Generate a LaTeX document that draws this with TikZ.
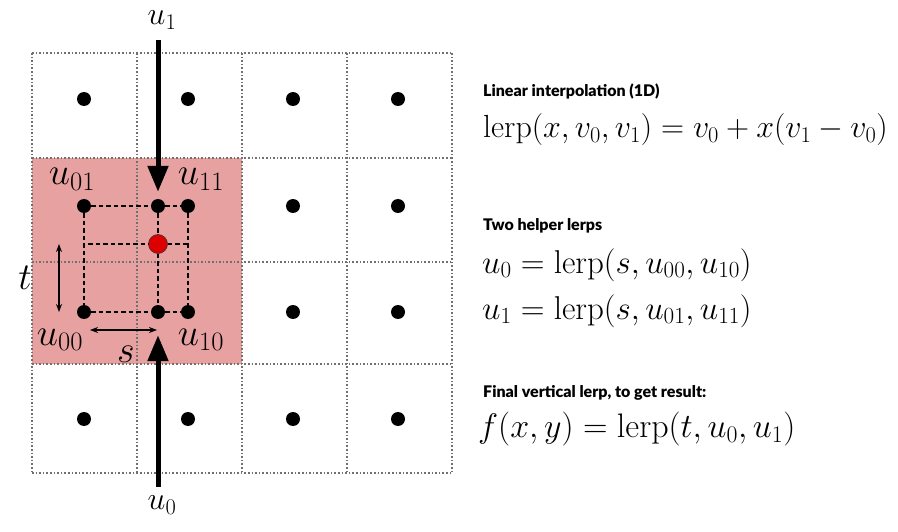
\RequirePackage{fix-cm}
\documentclass[tikz,border=0pt]{standalone}
\usepackage{amsmath}
\usepackage{fontspec}
\usepackage{tikz}
\usetikzlibrary{arrows.meta}
\newfontfamily\headfont{Lato Black}
\definecolor{cellpink}{HTML}{E6A1A0}
\definecolor{dotred}{HTML}{DD0000}
\definecolor{gridgray}{HTML}{707070}

\begin{document}
\begin{tikzpicture}[
  x=1pt, y=-1pt,
  gridline/.style={gridgray, line width=1.6pt, dash pattern=on 1.6pt off 2pt},
  dot/.style={circle, fill=black, inner sep=0pt, minimum size=14pt},
  reddot/.style={circle, fill=dotred, draw=black!80, line width=0.6pt, inner sep=0pt, minimum size=19pt},
  dashline/.style={line width=1.8pt, dash pattern=on 4.5pt off 3pt},
  bigarrow/.style={line width=5pt, -{Triangle[length=26pt,width=20pt]}},
  smallarrow/.style={line width=1.4pt, {Stealth[length=8pt,width=6pt]}-{Stealth[length=8pt,width=6pt]}},
  heading/.style={font=\headfont\fontsize{16}{20}\selectfont, anchor=base west, inner sep=0pt},
  formula/.style={font=\fontsize{32}{38}\selectfont, anchor=base west, inner sep=0pt},
  biglabel/.style={font=\fontsize{38}{44}\selectfont, anchor=base, inner sep=0pt},
  endlabel/.style={font=\fontsize{32}{36}\selectfont, inner sep=0pt},
]
\useasboundingbox (0,0) rectangle (898,532);

% ---------- shaded 2x2 block and grid ----------
\fill[cellpink] (32,158) rectangle (242,364);
\foreach \x in {32,137,242,347,452} \draw[gridline] (\x,53) -- (\x,473);
\foreach \y in {53,158,262,364,473} \draw[gridline] (32,\y) -- (452,\y);

% sample points, g<col><row>
\foreach \x/\cx in {84/0,188/1,293/2,398/3} {
  \foreach \y/\cy in {99/0,206/1,312/2,419/3} {
    \node[dot] (g\cx\cy) at (\x,\y) {};
  }
}

% interpolated points
\node[dot] (pu1) at (158,206) {};
\node[dot] (pu0) at (158,312) {};
\node[reddot] (pt) at (158,244) {};
\coordinate (hl) at (88,244);
\coordinate (hr) at (188,244);

\draw[dashline] (g01) -- (pu1) -- (g11);
\draw[dashline] (g02) -- (pu0) -- (g12);
\draw[dashline] (g01) -- (g02);
\draw[dashline] (g11) -- (g12);
\draw[dashline] (pu1) -- (pt) -- (pu0);
\draw[dashline] (hl) -- (pt) -- (hr);

% ---------- vertical lerp arrows ----------
\coordinate (u1start) at (158,40);
\coordinate (u0start) at (158,487);
\draw[bigarrow, shorten >=7pt] (u1start) -- (pu1);
\draw[bigarrow, shorten >=16pt] (u0start) -- (pu0);
\node[endlabel] (lu1) at (162,20) {$u_1$};
\node[endlabel] (lu0) at (162,505) {$u_0$};

% corner labels
\node[biglabel] (l01) at (72,185) {$u_{01}$};
\node[biglabel] (l11) at (201,185) {$u_{11}$};
\node[biglabel] (l00) at (60,345) {$u_{00}$};
\node[biglabel] (l10) at (201,345) {$u_{10}$};

% s and t
\coordinate (ttop) at (59,244);
\coordinate (tbot) at (59,312);
\coordinate (sleft) at (90,330);
\coordinate (sright) at (157,330);
\draw[smallarrow] (ttop) -- (tbot);
\draw[smallarrow] (sleft) -- (sright);
\node[biglabel] (lt) at (25,290) {$t$};
\node[biglabel] (ls) at (126,362) {$s$};

% ---------- formulas ----------
\node[heading] (h1) at (483,97) {Linear interpolation (1D)};
\node[formula] (f1) at (483,138) {$\operatorname{lerp}(x, v_0, v_1) = v_0 + x(v_1 - v_0)$};
\node[heading] (h2) at (483,230) {Two helper lerps};
\node[formula, font=\fontsize{33}{38}\selectfont] (f2) at (482,273) {$u_0 = \operatorname{lerp}(s, u_{00}, u_{10})$};
\node[formula, font=\fontsize{33}{38}\selectfont] (f3) at (482,319) {$u_1 = \operatorname{lerp}(s, u_{01}, u_{11})$};
\node[heading] (h3) at (483,397) {Final vertical lerp, to get result:};
\node[formula, font=\fontsize{34}{40}\selectfont] (f4) at (478,437) {$f(x, y) = \operatorname{lerp}(t, u_0, u_1)$};
\end{tikzpicture}
\end{document}
